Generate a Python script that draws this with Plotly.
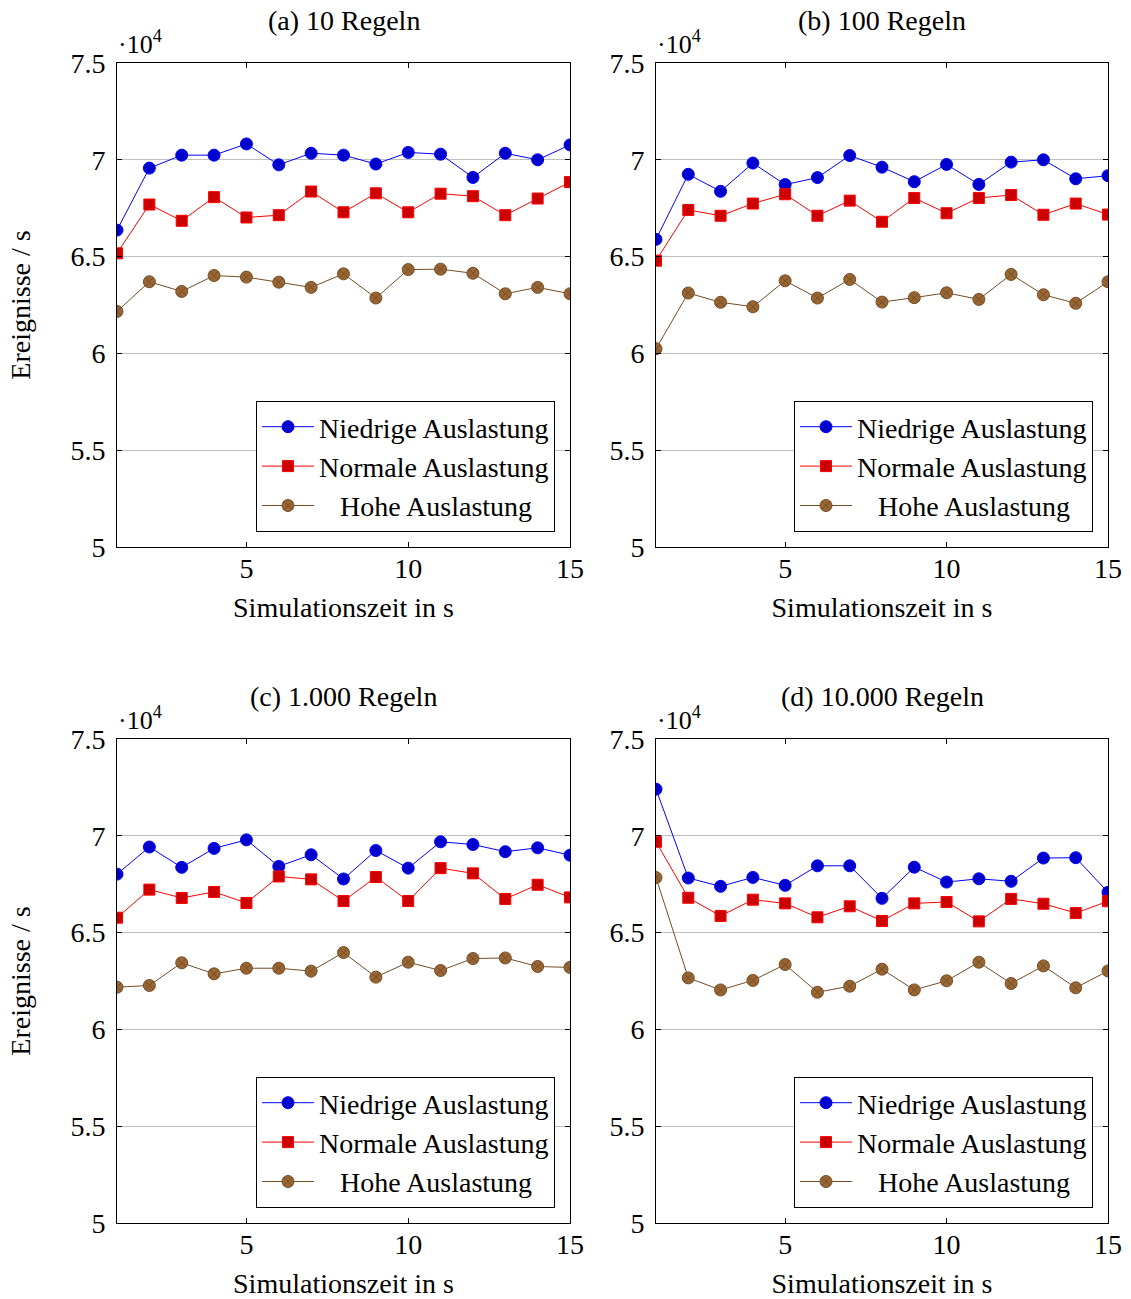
import plotly.graph_objects as go

# Simulation time in seconds (x axis)
sim_time = list(range(1, 16))

# Events per second, in units of 10^4, for each rule count
low_10 = [6.637, 6.957, 7.024, 7.024, 7.082, 6.974, 7.034, 7.024, 6.978, 7.038, 7.029, 6.909, 7.034, 7.000, 7.077]
normal_10 = [6.517, 6.769, 6.685, 6.807, 6.702, 6.714, 6.836, 6.729, 6.827, 6.729, 6.825, 6.812, 6.714, 6.800, 6.885]
high_10 = [6.217, 6.370, 6.320, 6.402, 6.394, 6.368, 6.341, 6.411, 6.286, 6.433, 6.435, 6.414, 6.308, 6.341, 6.308]

low_100 = [6.589, 6.925, 6.837, 6.983, 6.872, 6.908, 7.022, 6.962, 6.887, 6.976, 6.873, 6.988, 7.000, 6.902, 6.918]
normal_100 = [6.479, 6.741, 6.711, 6.774, 6.822, 6.711, 6.789, 6.680, 6.803, 6.724, 6.803, 6.818, 6.716, 6.774, 6.717]
high_100 = [6.024, 6.312, 6.264, 6.241, 6.375, 6.286, 6.382, 6.265, 6.288, 6.313, 6.279, 6.408, 6.303, 6.259, 6.370]

low_1000 = [6.802, 6.942, 6.837, 6.935, 6.979, 6.842, 6.902, 6.777, 6.924, 6.833, 6.969, 6.955, 6.918, 6.938, 6.900]
normal_1000 = [6.577, 6.722, 6.679, 6.710, 6.653, 6.790, 6.775, 6.663, 6.787, 6.663, 6.833, 6.806, 6.674, 6.747, 6.682]
high_1000 = [6.218, 6.227, 6.344, 6.287, 6.316, 6.316, 6.301, 6.397, 6.270, 6.347, 6.304, 6.366, 6.369, 6.325, 6.320]

low_10000 = [7.241, 6.782, 6.739, 6.785, 6.744, 6.845, 6.845, 6.677, 6.838, 6.761, 6.778, 6.765, 6.885, 6.887, 6.708]
normal_10000 = [6.969, 6.680, 6.586, 6.670, 6.651, 6.579, 6.636, 6.560, 6.651, 6.658, 6.558, 6.674, 6.649, 6.601, 6.662]
high_10000 = [6.784, 6.266, 6.204, 6.253, 6.335, 6.192, 6.223, 6.311, 6.204, 6.251, 6.347, 6.237, 6.328, 6.215, 6.302]

panel_titles = ["(a) 10 Regeln", "(b) 100 Regeln", "(c) 1.000 Regeln", "(d) 10.000 Regeln"]
series_names = ["Niedrige Auslastung", "Normale Auslastung", "\u00a0\u00a0\u00a0Hohe Auslastung"]
y_tick_vals = [5, 5.5, 6, 6.5, 7, 7.5]
y_tick_text = ["5", "5.5", "6", "6.5", "7", "7.5"]
x_tick_vals = [5, 10, 15]
x_title = "Simulationszeit in s"
y_title = "Ereignisse / s"

panels = [
    (low_10, normal_10, high_10),
    (low_100, normal_100, high_100),
    (low_1000, normal_1000, high_1000),
    (low_10000, normal_10000, high_10000),
]

W, H = 1131, 1299
FONT = "Liberation Serif"
FS = 28

# plot-area pixel boxes (left, right, top, bottom)
boxes = [
    (117, 570, 63, 547),
    (656, 1108, 63, 547),
    (117, 570, 739, 1223),
    (656, 1108, 739, 1223),
]

styles = [
    dict(line="#0000FF", fill="#0000CC", symbol="circle", size=12),
    dict(line="#FF0000", fill="#CC0000", symbol="square", size=11),
    dict(line="#734D26", fill="#996633", symbol="circle-x", size=12),
]

fig = go.Figure()
layout = dict(
    width=W, height=H,
    margin=dict(l=0, r=0, t=0, b=0),
    paper_bgcolor="white", plot_bgcolor="white",
    font=dict(family=FONT, size=FS, color="black"),
    annotations=[],
)

for i, (series, box) in enumerate(zip(panels, boxes)):
    n = i + 1
    xa = "x" if n == 1 else f"x{n}"
    ya = "y" if n == 1 else f"y{n}"
    leg = "legend" if n == 1 else f"legend{n}"
    for name, vals, st in zip(series_names, series, styles):
        fig.add_trace(go.Scatter(
            x=sim_time, y=vals, name=name, mode="lines+markers",
            xaxis=xa, yaxis=ya, legend=leg,
            line=dict(color=st["line"], width=1),
            marker=dict(symbol=st["symbol"], size=st["size"], color=st["fill"],
                        line=dict(color=st["line"], width=1)),
        ))
    l, r, t, b = box
    xdom = [l / W, r / W]
    ydom = [1 - b / H, 1 - t / H]
    axis_common = dict(
        showline=True, linecolor="black", linewidth=1, mirror="allticks",
        ticks="inside", ticklen=5, tickcolor="black", tickwidth=1,
        zeroline=False, automargin=False,
        tickfont=dict(family=FONT, size=FS, color="black"),
    )
    layout["xaxis" if n == 1 else f"xaxis{n}"] = dict(
        domain=xdom, anchor=ya, range=[1, 15], tickvals=x_tick_vals,
        showgrid=False, ticklabelstandoff=-4,
        title=dict(text=x_title, standoff=14, font=dict(family=FONT, size=FS)),
        **axis_common,
    )
    yaxis = dict(
        domain=ydom, anchor=xa, range=[5, 7.5], tickvals=y_tick_vals,
        ticktext=y_tick_text, showgrid=True, gridcolor="#BFBFBF", gridwidth=1,
        ticklabelstandoff=5,
        **axis_common,
    )
    if n in (1, 3):
        yaxis["title"] = dict(text=y_title, standoff=31, font=dict(family=FONT, size=FS))
    layout["yaxis" if n == 1 else f"yaxis{n}"] = yaxis
    layout[leg] = dict(
        x=(r - 15) / W, y=1 - (b - 15) / H, xanchor="right", yanchor="bottom",
        xref="paper", yref="paper",
        bgcolor="white", bordercolor="black", borderwidth=1,
        font=dict(family=FONT, size=FS, color="black"),
        itemwidth=52, tracegroupgap=0,
    )
    # panel caption
    layout["annotations"].append(dict(
        text=panel_titles[i], x=(l + r) / 2 / W, y=1 - (t - 43) / H,
        xref="paper", yref="paper", xanchor="center", yanchor="middle",
        showarrow=False, font=dict(family=FONT, size=FS),
    ))
    # scale factor label
    layout["annotations"].append(dict(
        text="\u00b710<sup>4</sup>", x=(l - 1) / W, y=1 - (t - 2) / H,
        xref="paper", yref="paper", xanchor="left", yanchor="bottom",
        showarrow=False, font=dict(family=FONT, size=26),
    ))

fig.update_layout(**layout)
fig.write_html("out.html")
